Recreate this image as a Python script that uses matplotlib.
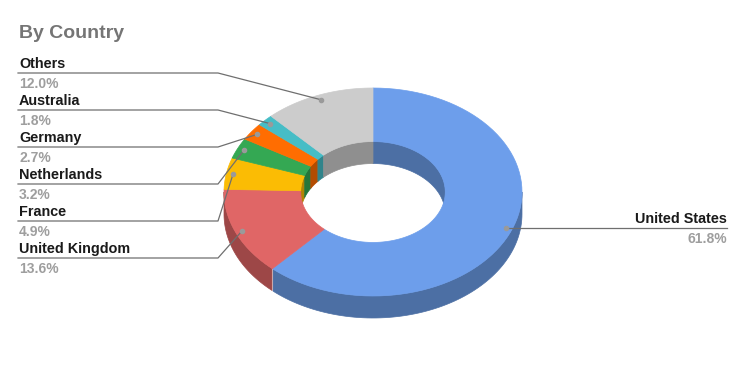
import numpy as np
import matplotlib
matplotlib.use("Agg")
import matplotlib.pyplot as plt
from matplotlib.patches import Polygon
from matplotlib.colors import to_rgb

# data: slices run clockwise from 12 o'clock
countries = ["United States", "United Kingdom", "France", "Netherlands",
             "Germany", "Australia", "Others"]
shares = [61.8, 13.6, 4.9, 3.2, 2.7, 1.8, 12.0]
colors = ["#6d9eeb", "#e06666", "#fbbc04", "#34a853",
          "#ff6d01", "#46bdc6", "#cccccc"]

plt.rcParams['font.family'] = ['Liberation Sans', 'DejaVu Sans']

# pseudo-3D donut geometry (pixel space)
cx, cy = 373, 192
A, B = 149, 104
r_in = 0.485
depth = 22


def shade(c, f=0.7):
    return tuple(v * f for v in to_rgb(c))


def ring(t1, t2, r, n=80):
    th = np.radians(np.linspace(t1, t2, n))
    return np.column_stack([cx + A * r * np.sin(th), cy - B * r * np.cos(th)])


fig = plt.figure(figsize=(7.46, 3.71), dpi=100)
ax = fig.add_axes([0, 0, 1, 1])
ax.set_xlim(0, 746)
ax.set_ylim(371, 0)
ax.axis("off")

bounds = np.concatenate([[0], np.cumsum(shares) / sum(shares) * 360])

# outer side walls (front half) and inner walls (back half, seen through hole)
for i, c in enumerate(colors):
    t1, t2 = bounds[i], bounds[i + 1]
    lo, hi = max(t1, 90), min(t2, 270)
    if lo < hi:
        top = ring(lo, hi, 1)
        bot = top + [0, depth]
        ax.add_patch(Polygon(np.vstack([top, bot[::-1]]), closed=True,
                             fc=shade(c), ec=shade(c), lw=0.5, zorder=1))
    for a, b in [(0, 90), (270, 360)]:
        lo, hi = max(t1, a), min(t2, b)
        if lo < hi:
            top = ring(lo, hi, r_in)
            bot = top + [0, depth]
            ax.add_patch(Polygon(np.vstack([top, bot[::-1]]), closed=True,
                                 fc=shade(c), ec=shade(c), lw=0.5, zorder=1))

# slice seams on the front wall
for t in bounds[1:-1]:
    if 90 < t < 270:
        p = ring(t, t, 1, 1)[0]
        ax.plot([p[0], p[0]], [p[1], p[1] + depth], color="white",
                alpha=0.5, lw=0.8, zorder=1.5)

# top faces
for i, c in enumerate(colors):
    t1, t2 = bounds[i], bounds[i + 1]
    pts = np.vstack([ring(t1, t2, 1), ring(t2, t1, r_in)])
    ax.add_patch(Polygon(pts, closed=True, fc=c, ec=c, lw=0.5, zorder=2))

# labels
line_col = "#6f6f6f"
left_order = [6, 5, 4, 3, 2, 1]
for k, i in enumerate(left_order):
    mid = (bounds[i] + bounds[i + 1]) / 2
    dot = ring(mid, mid, 0.955, 1)[0]
    ly = 73 + 37 * k
    ax.plot([18, 218, dot[0]], [ly, ly, dot[1]], color=line_col, lw=0.9, zorder=3)
    ax.plot(dot[0], dot[1], "o", ms=3, color="#9a9a9a", zorder=4)
    ax.text(19, ly - 5, countries[i], fontsize=10.4, fontweight="bold",
            color="#1a1a1a", va="baseline", ha="left")
    ax.text(19, ly + 15, f"{shares[i]:.1f}%", fontsize=10, fontweight="bold",
            color="#9e9e9e", va="baseline", ha="left")

i = 0
mid = (bounds[i] + bounds[i + 1]) / 2
dot = ring(mid, mid, 0.955, 1)[0]
ly = dot[1]
ax.plot([727, dot[0]], [ly, ly], color=line_col, lw=0.9, zorder=3)
ax.plot(dot[0], dot[1], "o", ms=3, color="#9a9a9a", zorder=4)
ax.text(727, ly - 5, countries[i], fontsize=10.4, fontweight="bold",
        color="#1a1a1a", va="baseline", ha="right")
ax.text(727, ly + 15, f"{shares[i]:.1f}%", fontsize=10, fontweight="bold",
        color="#9e9e9e", va="baseline", ha="right")

ax.text(19, 38, "By Country", fontsize=14, fontweight="bold",
        color="#757575", va="baseline", ha="left")

fig.savefig("out.png", dpi=100)
